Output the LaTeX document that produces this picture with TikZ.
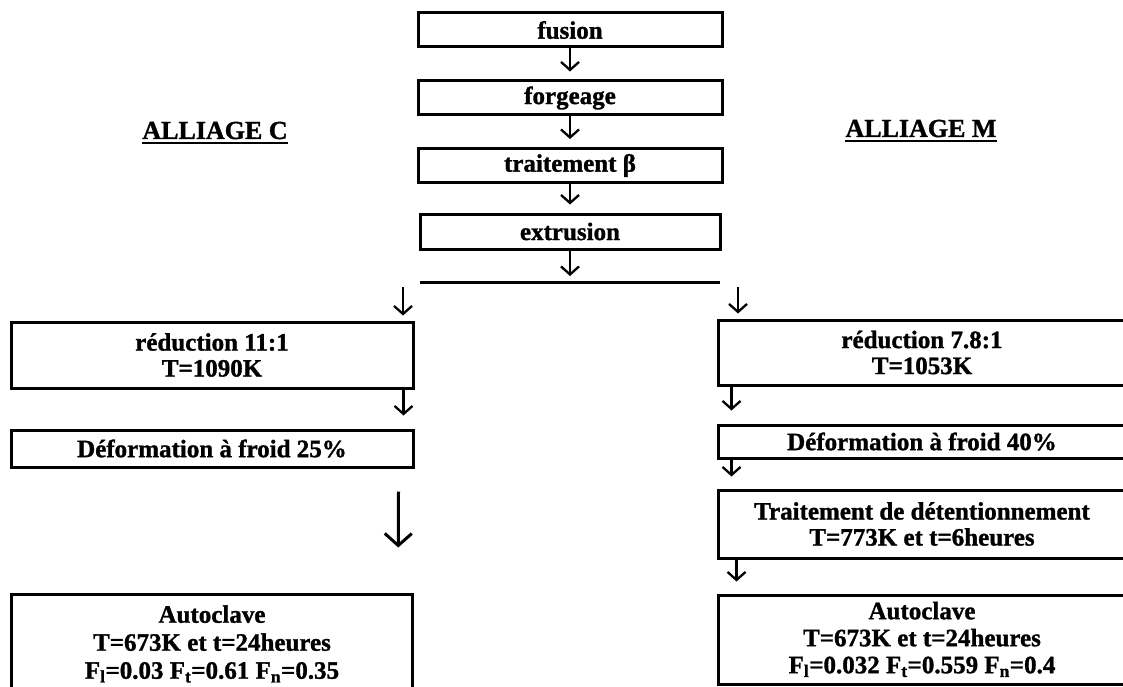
\documentclass[tikz,border=0pt]{standalone}
\usepackage{fontspec}
\setmainfont{Liberation Serif}[BoldFeatures={FakeBold=1.2}]
\usetikzlibrary{arrows.meta}
\begin{document}
\begin{tikzpicture}[x=1pt,y=-1pt,
  box/.style={draw, line width=3pt, inner sep=0pt, align=center,
    font=\bfseries\fontsize{25}{26}\selectfont},
  arr/.style={line width=2.3pt, -{Straight Barb[length=8pt,width=18pt,line width=2.3pt]}},
  bigarr/.style={line width=3pt, -{Straight Barb[length=12pt,width=27pt,line width=3pt]}},
  ttl/.style={inner sep=0pt, font=\bfseries\fontsize{26}{28}\selectfont},
  uline/.style={line width=2.4pt}]
\useasboundingbox (0,0) rectangle (1123,687);
\clip (0,0) rectangle (1123,687);
\fill[white] (0,0) rectangle (1123,687);

% central chain
\node[box, minimum width=304, minimum height=34] (fus)  at (570,30)    {fusion};
\node[box, minimum width=304, minimum height=34] (forg) at (570,98)    {forgeage};
\node[box, minimum width=304, minimum height=34] (trb)  at (570,165.5) {traitement β};
\node[box, minimum width=300, minimum height=35] (extr) at (570,231.5) {extrusion};
\coordinate (lineL) at (420,282);
\coordinate (lineR) at (720,282);
\draw[line width=3pt] (lineL) -- (lineR);

\draw[arr, shorten >=8pt] (fus) -- (forg);
\draw[arr, shorten >=8pt] (forg) -- (trb);
\draw[arr, shorten >=8pt] (trb) -- (extr);
\draw[arr, shorten >=6pt] (extr) -- (extr.south |- lineL);

% titles
\node[ttl, anchor=base] (allC) at (215,139) {ALLIAGE C};
\draw[uline] ([yshift=-4pt]allC.base west) -- ([yshift=-4pt]allC.base east);
\node[ttl, anchor=base] (allM) at (921,137) {ALLIAGE M};
\draw[uline] ([yshift=-4pt]allM.base west) -- ([yshift=-4pt]allM.base east);

% left column
\node[box, minimum width=402, minimum height=66] (redC) at (212,355)
  {réduction 11:1\\T=1090K};
\node[box, minimum width=402, minimum height=37] (defC) at (212,448.5)
  {Déformation à froid 25\%};
\node[box, minimum width=401, minimum height=100, font=\bfseries\fontsize{25}{28}\selectfont] (autoC) at (212,644)
  {Autoclave\\T=673K et t=24heures\\F\textsubscript{l}=0.03 F\textsubscript{t}=0.61 F\textsubscript{n}=0.35};

% right column
\node[box, minimum width=408, minimum height=65] (redM) at (922,352.5)
  {réduction 7.8:1\\T=1053K};
\node[box, minimum width=408, minimum height=33] (defM) at (922,441.5)
  {Déformation à froid 40\%};
\node[box, minimum width=408, minimum height=68] (traitM) at (922,524)
  {Traitement de détentionnement\\T=773K et t=6heures};
\node[box, minimum width=408, minimum height=89, font=\bfseries\fontsize{25}{27}\selectfont] (autoM) at (922,639.5)
  {Autoclave\\T=673K et t=24heures\\F\textsubscript{l}=0.032 F\textsubscript{t}=0.559 F\textsubscript{n}=0.4};

% split arrows
\coordinate (splitC) at (403,287);
\coordinate (splitM) at (738,287);
\draw[arr, shorten >=5pt] (splitC) -- (splitC |- redC.north);
\draw[arr, shorten >=5pt] (splitM) -- (splitM |- redM.north);

% left arrows
\draw[arr, shorten >=13pt] ([xshift=-11pt]redC.south east) -- ([xshift=-11pt]defC.north east);
\draw[bigarr, shorten >=45pt] ([xshift=-16pt,yshift=-23pt]defC.south east) -- ([xshift=-16pt]autoC.north east);

% right arrows
\draw[arr, shorten >=13pt] ([xshift=15pt]redM.south west) -- ([xshift=15pt]defM.north west);
\draw[arr, shorten >=12pt] ([xshift=15pt]defM.south west) -- ([xshift=15pt]traitM.north west);
\draw[arr, shorten >=12pt] ([xshift=20pt]traitM.south west) -- ([xshift=20pt]autoM.north west);
\end{tikzpicture}
\end{document}
